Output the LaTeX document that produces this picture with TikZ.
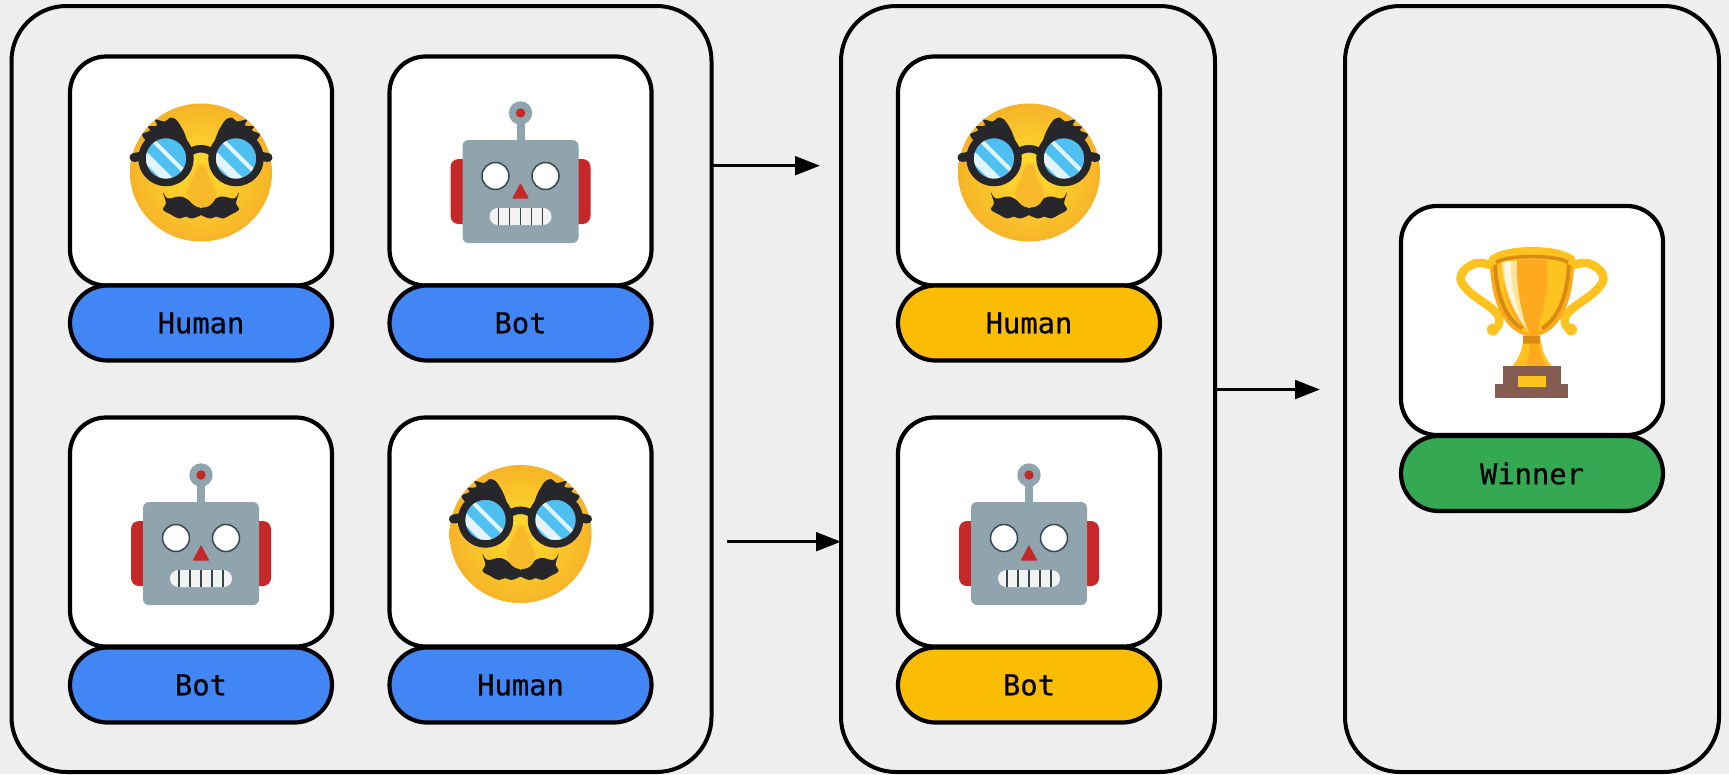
\documentclass[tikz,border=0pt]{standalone}
\usepackage{fontspec}
\newfontfamily\monolabel[FakeBold=0.5]{DejaVu Sans Mono}
\usetikzlibrary{arrows.meta,calc}
\definecolor{bgpanel}{HTML}{EEEEEE}
\definecolor{blueTag}{HTML}{4285F4}
\definecolor{amberTag}{HTML}{FBBC04}
\definecolor{greenTag}{HTML}{34A853}
\definecolor{robotGrey}{HTML}{90A4AE}
\definecolor{robotRed}{HTML}{C62828}
\definecolor{robotDark}{HTML}{37474F}
\definecolor{inkDark}{HTML}{26262B}
\definecolor{lensBlue}{HTML}{4FC0F2}
\definecolor{lensPale}{HTML}{E3F4FD}
\definecolor{goldA}{HTML}{FFC31F}
\definecolor{goldB}{HTML}{FFA91F}
\definecolor{goldDark}{HTML}{D98A12}
\definecolor{baseBrown}{HTML}{855C52}
\definecolor{faceMid}{HTML}{FFE02E}
\definecolor{faceEdge}{HTML}{F6B428}
\definecolor{noseA}{HTML}{FDCB2B}
\definecolor{noseB}{HTML}{F8BA2B}
\tikzset{
  x=1pt,y=-1pt,
  panel/.style={draw=black,line width=4pt,fill=bgpanel,rounded corners=55pt,minimum width=#1,inner sep=0pt,outer sep=0pt,minimum height=766pt},
  card/.style={draw=black,line width=4.2pt,fill=white,rounded corners=36pt,minimum width=262pt,minimum height=229pt,inner sep=0pt,outer sep=0pt},
  tag/.style={draw=black,line width=4.2pt,fill=#1,rounded corners=37.5pt,minimum width=262pt,minimum height=75pt,inner sep=0pt,outer sep=0pt,font=\monolabel\fontsize{28.8}{30}\selectfont},
  flow/.style={draw=black,line width=3.5pt,-{Triangle[length=25pt,width=18.5pt]}},
  human/.pic={
    % face
    \shade[inner color=faceMid,outer color=faceEdge] (0,0) ellipse[x radius=71,y radius=69];
    % nose
    \fill[noseA] plot[smooth cycle,tension=.6] coordinates {(-7,-8) (-14,12) (-20,25) (-9,31) (1,35) (11,31) (21,25) (15,12) (8,-8)};
    % moustache
    \foreach \s in {1,-1}{
      \fill[inkDark,xscale=\s] plot[smooth cycle,tension=.7] coordinates {(-38,20) (-33,26) (-20,24) (-9,30) (0,36) (2,41) (-9,46) (-15,44) (-22,46) (-30,42) (-38,37) (-35,31)};
    }
    \fill[noseB] plot[smooth cycle,tension=.7] coordinates {(-3,-6) (-9,8) (-14,20) (-9,31) (1,35) (11,31) (15,20) (9,8) (4,-6)};
    % eyebrows
    \foreach \s in {1,-1}{
      \fill[inkDark,xscale=\s] plot[smooth cycle,tension=.5] coordinates {(-59,-38) (-51,-42) (-53,-46) (-44,-47) (-46,-53) (-36,-51) (-31,-55) (-25,-53) (-20,-46) (-16,-38) (-13,-24) (-33,-28) (-52,-30)};
    }
    % temples
    \draw[inkDark,line width=9pt,line cap=round] (-55,-17) -- (-67,-15);
    \draw[inkDark,line width=9pt,line cap=round] (55,-17) -- (67,-15);
    % bridge
    \draw[inkDark,line width=7.5pt] (-14,-17) .. controls (-8,-26) and (8,-26) .. (14,-17);
    % lenses
    \foreach \c in {-35,35}{
      \begin{scope}
        \clip (\c,-14) circle[radius=21];
        \fill[lensBlue] (\c-22,-36) rectangle (\c+22,8);
        \draw[lensPale,line width=9pt] (\c-32,-27) -- (\c+20,25);
        \draw[lensPale,line width=4pt] (\c-20,-39) -- (\c+32,13);
      \end{scope}
      \draw[inkDark,line width=7.5pt] (\c,-14) circle[radius=24];
    }
  },
  robot/.pic={
    \fill[robotRed,rounded corners=8pt] (-70,-12) rectangle (70,53);
    \fill[robotGrey] (-4,-58) rectangle (4,-28);
    \fill[robotGrey] (0,-58) circle[radius=11.7];
    \fill[robotRed] (0,-58) circle[radius=4.7];
    \fill[robotGrey,rounded corners=6pt] (-58,-31) rectangle (58,72);
    \foreach \c in {-25,25}{
      \fill[white,draw=robotDark,line width=1.5pt] (\c,5) circle[radius=13.5];
    }
    \fill[robotRed,line join=round,draw=robotRed,line width=1pt] (0,13) -- (7.5,27) -- (-7.5,27) -- cycle;
    \fill[white!95!black,rounded corners=8.4pt] (-31,37) rectangle (31,54);
    \foreach \c in {-22,-11,0,11,22}{
      \draw[robotDark,line width=1.9pt] (\c,37) -- (\c,54);
    }
  },
  trophy/.pic={
    % handles
    \foreach \s in {1,-1}{
      \draw[goldA,line width=8.5pt,xscale=\s,line cap=round] plot[smooth,tension=.7] coordinates {(-40,-55) (-57,-57) (-71,-45) (-64,-30) (-37,-9) (-33,3) (-39,9)};
      \fill[goldA,xscale=\s] (-39,9) circle[radius=6];
    }
    % stem
    \fill[goldA] (-9,20) .. controls (-10,32) and (-15,40) .. (-20,46) -- (20,46) .. controls (15,40) and (10,32) .. (9,20) -- cycle;
    \fill[goldB] (-2,22) .. controls (-2,32) and (-5,40) .. (-6,46) -- (14,46) .. controls (9,38) and (7,30) .. (6,22) -- cycle;
    % cup
    \begin{scope}
      \clip (-42,-62) .. controls (-42,-20) and (-28,14) .. (0,16) .. controls (28,14) and (42,-20) .. (42,-62) -- cycle;
      \fill[goldB] (-45,-70) rectangle (45,20);
      \fill[goldA] (15,-70) -- (36,-70) -- (36,-30) -- (30,0) -- (5,20) -- (8,0) -- (15,-30) -- cycle;
      \fill[goldA] (-36,-70) rectangle (-28,-30);
      \fill[goldA] (-36,-45) -- (-30,-45) .. controls (-28,-20) and (-18,0) .. (-3,12) -- (-10,14) .. controls (-25,0) and (-36,-20) .. (-36,-45) -- cycle;
      \fill[white!55!goldA] (-30,-60) -- (-15,-60) .. controls (-16,-35) and (-11,-5) .. (-3,12) .. controls (-16,-5) and (-29,-25) .. (-30,-60) -- cycle;
      \fill[white!85!goldA] (-29,-60) -- (-21,-60) .. controls (-22,-35) and (-15,-5) .. (-4,10) .. controls (-18,-8) and (-27,-30) .. (-29,-60) -- cycle;
      \draw[goldDark,line width=4pt] (-37,-62) .. controls (-37,-28) and (-27,-2) .. (-10,8);
      \draw[goldDark,line width=4pt] (37,-62) .. controls (37,-28) and (27,-2) .. (10,8);
      \draw[goldB,line width=6pt] (-42,-62) .. controls (-42,-20) and (-28,14) .. (0,16) .. controls (28,14) and (42,-20) .. (42,-62);
    \end{scope}
    % rim
    \fill[goldA] (-43,-63) .. controls (-30,-77) and (30,-77) .. (43,-63) -- (42,-53) .. controls (30,-64) and (-30,-64) .. (-42,-53) -- cycle;
    \draw[goldDark,line width=3.5pt] (-36,-58) .. controls (-25,-66) and (25,-66) .. (36,-58);
    % neck
    \fill[goldDark] (-9,15) .. controls (-4,16) and (4,16) .. (8,15) -- (8,23) -- (-9,23) -- cycle;
    % base
    \fill[baseBrown] (-29,45) rectangle (29,64);
    \fill[baseBrown] (-37,63) rectangle (36,77);
    \fill[goldA] (-14,55) rectangle (14,66);
  }
}
\begin{document}
\begin{tikzpicture}
\useasboundingbox (0,0) rectangle (1729,774);
\fill[bgpanel] (0,0) rectangle (1729,774);
% panels
\node[panel=700pt] (g1) at (361.5,389) {};
\node[panel=374pt] (g2) at (1028,389) {};
\node[panel=374pt] (g3) at (1532,389) {};
% first panel
\node[card] (c1) at (201,171) {};
\node[tag=blueTag] (t1) at (201,323) {Human};
\node[card] (c2) at (520.5,171) {};
\node[tag=blueTag] (t2) at (520.5,323) {Bot};
\node[card] (c3) at (201,532) {};
\node[tag=blueTag] (t3) at (201,685) {Bot};
\node[card] (c4) at (520.5,532) {};
\node[tag=blueTag] (t4) at (520.5,685) {Human};
% second panel
\node[card] (c5) at (1029,171) {};
\node[tag=amberTag] (t5) at (1029,323) {Human};
\node[card] (c6) at (1029,532) {};
\node[tag=amberTag] (t6) at (1029,685) {Bot};
% third panel
\node[card] (c7) at (1532,320.5) {};
\node[tag=greenTag] (t7) at (1532,473.5) {Winner};
% emoji
\pic at (201,172.5) {human};
\pic at (520.5,171) {robot};
\pic at (201,533) {robot};
\pic at (520.5,534) {human};
\pic at (1029,172.5) {human};
\pic at (1029,533) {robot};
\pic at (1532,320.5) {trophy};
% arrows
\coordinate (e1) at (820,165.7);
\coordinate (s2) at (727,541.7);
\coordinate (e3) at (1320,389.5);
\draw[flow] (g1.east |- e1) -- (e1);
\draw[flow] (s2) -- (s2 -| g2.west);
\draw[flow] (g2.east |- e3) -- (e3);
\end{tikzpicture}
\end{document}
